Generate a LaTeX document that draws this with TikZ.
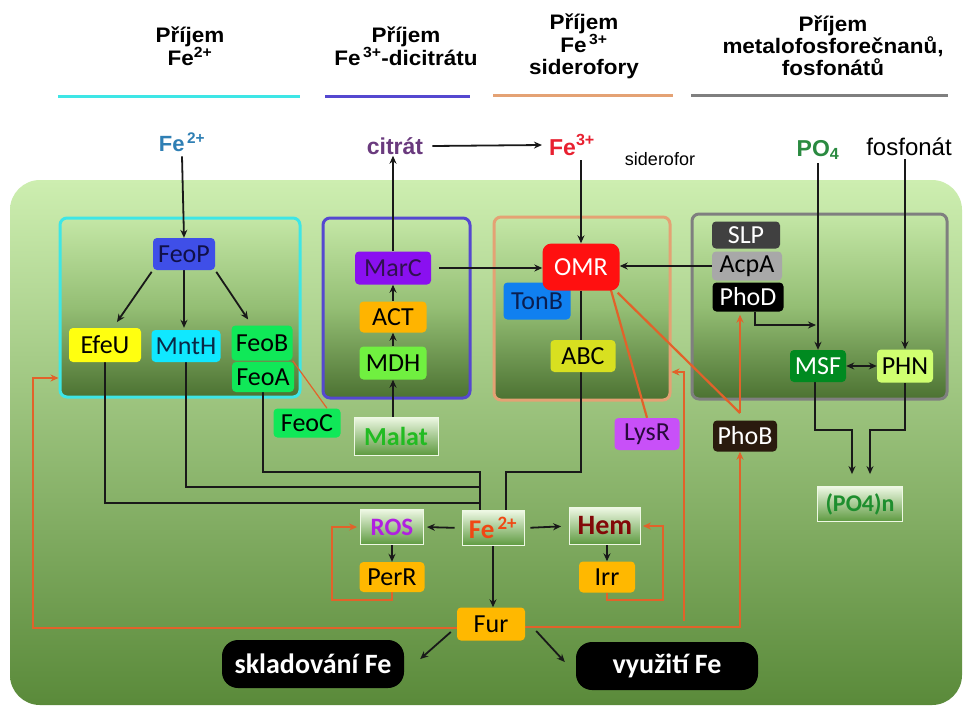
\documentclass[tikz,border=0pt]{standalone}
\usepackage{fontspec}
\setmainfont{Liberation Sans}
\newfontfamily\hdrfont{Liberation Sans}[FakeStretch=1.07]
\newfontfamily\boxfont{Carlito}
\usetikzlibrary{arrows.meta,calc}
\definecolor{bgtop}{HTML}{CDEEB0}
\definecolor{bgbot}{HTML}{5A8A3A}
\definecolor{rtop}{HTML}{C4E7A6}
\definecolor{rmid}{HTML}{94BE74}
\definecolor{rbot}{HTML}{4C7232}
\definecolor{gtop}{HTML}{EEF8E4}
\definecolor{gbot}{HTML}{5E9A40}
\definecolor{orl}{HTML}{E2622A}
\definecolor{cyanb}{HTML}{3EE6E6}
\definecolor{purpb}{HTML}{5548D0}
\definecolor{tanb}{HTML}{E4A274}
\definecolor{grayb}{HTML}{7F7F7F}
\definecolor{feblue}{HTML}{2F7FB4}
\definecolor{citc}{HTML}{6A3A7E}
\definecolor{fered}{HTML}{E82030}
\definecolor{po4c}{HTML}{2A8A40}
\pgfdeclarelayer{back}
\pgfdeclarelayer{lines}
\pgfsetlayers{back,lines,main}
\tikzset{
 conn/.style={draw=black!90, line width=1.8pt},
 arr/.style={conn, -{Stealth[length=8pt,width=7pt]}},
 arrr/.style={conn, {Stealth[length=8pt,width=7pt]}-{Stealth[length=8pt,width=7pt]}},
 oconn/.style={draw=orl, line width=2.2pt},
 oarr/.style={oconn, -{Stealth[length=8pt,width=7pt]}},
 gene/.style={rounded corners=4pt, font=\boxfont\fontsize{26}{27}\selectfont, inner sep=0pt},
 grad/.style={top color=gtop, bottom color=gbot, draw=gtop, line width=0.8pt, font=\boxfont\bfseries\fontsize{25}{26}\selectfont, inner sep=0pt},
 region/.style={rounded corners=7pt, line width=3pt, top color=rtop, bottom color=rbot, middle color=rmid, inner sep=0pt},
 hdr/.style={font=\hdrfont\bfseries\fontsize{21}{22}\selectfont, align=center, inner sep=0pt},
 lbl/.style={font=\bfseries\fontsize{23}{24}\selectfont, inner sep=1pt},
 big/.style={fill=black, text=white, rounded corners=16pt, font=\boxfont\bfseries\fontsize{28}{29}\selectfont, inner sep=0pt, minimum width=182pt, minimum height=48pt},
}
\begin{document}
\begin{tikzpicture}[x=1pt,y=-1pt]
\useasboundingbox (0,0) rectangle (966,710);

% headers
\node[hdr] (h1) at (190,46) {Příjem\\Fe\textsuperscript{2+}};
\node[hdr] (h2) at (406,46) {Příjem\\Fe\textsuperscript{\,3+}-dicitrátu};
\node[hdr] (h3) at (584,46) {Příjem\\Fe\textsuperscript{\,3+}\\siderofory};
\node[hdr] (h4) at (833,46) {Příjem\\metalofosforečnanů,\\fosfonátů};
\draw[cyanb, line width=3pt] (58,96) -- (300,96);
\draw[purpb, line width=3pt] (325,96) -- (470,96);
\draw[tanb, line width=3pt] (493,95) -- (673,95);
\draw[grayb, line width=3pt] (691,95) -- (948,95);

% outside labels
\node[lbl, text=feblue, font=\bfseries\fontsize{22}{23}\selectfont] (fein) at (182,142) {Fe\textsuperscript{\,2+}};
\node[lbl, text=citc] (citrat) at (395,146) {citrát};
\node[lbl, text=fered] (fe3) at (572,145) {Fe\textsuperscript{3+}};
\node[font=\fontsize{18}{19}\selectfont, inner sep=1pt] (sidf) at (660,159) {siderofor};
\node[lbl, text=po4c] (po4) at (818,150) {PO\textsubscript{4}};
\node[font=\fontsize{24}{25}\selectfont, inner sep=1pt] (fosf) at (909,147) {fosfonát};

% cell and regions
\begin{pgfonlayer}{back}
\fill[white] (0,0) rectangle (966,710);
\node[rounded corners=30pt, top color=bgtop, bottom color=bgbot, minimum width=952pt, minimum height=525pt, inner sep=0pt] (cell) at (486,442.5) {};
\node[region, draw=cyanb, minimum width=240pt, minimum height=179pt] (bFe) at (180,307.5) {};
\node[region, draw=purpb, minimum width=147pt, minimum height=180pt] (bCit) at (396.5,308) {};
\node[region, draw=tanb, minimum width=176pt, minimum height=183pt] (bSid) at (582,308.5) {};
\node[region, draw=grayb, minimum width=255pt, minimum height=185pt] (bPho) at (819.5,306.5) {};
\end{pgfonlayer}

% Fe2+ uptake
\node[gene, fill={rgb,255:red,63;green,79;blue,232}, text={rgb,255:red,16;green,16;blue,72}, minimum width=62pt, minimum height=32pt] (feop) at (184,254) {FeoP};
\node[gene, fill={rgb,255:red,255;green,255;blue,16}, minimum width=72pt, minimum height=34pt] (efeu) at (105,345) {EfeU};
\node[gene, fill={rgb,255:red,16;green,232;blue,255}, text={rgb,255:red,10;green,40;blue,70}, minimum width=69pt, minimum height=32pt] (mnth) at (186,346) {MntH};
\node[gene, fill={rgb,255:red,16;green,232;blue,88}, minimum width=61pt, minimum height=35pt] (feob) at (262,343) {FeoB};
\node[gene, fill={rgb,255:red,16;green,232;blue,88}, minimum width=62pt, minimum height=30pt] (feoa) at (263,377) {FeoA};
\node[gene, fill={rgb,255:red,16;green,232;blue,88}, minimum width=67pt, minimum height=29pt] (feoc) at (307,423) {FeoC};

% citrate
\node[grad, text={rgb,255:red,34;green,187;blue,34}, font=\boxfont\bfseries\fontsize{26}{27}\selectfont, minimum width=84pt, minimum height=38pt, rounded corners=0pt] (malat) at (396,436) {Malat};
\node[gene, fill={rgb,255:red,112;green,240;blue,64}, minimum width=67pt, minimum height=33pt] (mdh) at (393,363) {MDH};
\node[gene, fill={rgb,255:red,255;green,180;blue,0}, minimum width=67pt, minimum height=31pt] (act) at (393,317) {ACT};
\node[gene, fill={rgb,255:red,138;green,16;blue,240}, text={rgb,255:red,48;green,16;blue,80}, minimum width=76pt, minimum height=33pt] (marc) at (393,268) {MarC};

% siderophores
\node[gene, fill={rgb,255:red,16;green,128;blue,240}, text={rgb,255:red,10;green,30;blue,80}, minimum width=67pt, minimum height=37pt] (tonb) at (537,301) {TonB};
\node[gene, fill={rgb,255:red,255;green,16;blue,16}, text=white, rounded corners=9pt, minimum width=77pt, minimum height=47pt] (omr) at (581,267) {OMR};
\node[gene, fill={rgb,255:red,216;green,224;blue,32}, minimum width=65pt, minimum height=32pt] (abc) at (583,356) {ABC};

% phosphate
\node[gene, fill={rgb,255:red,64;green,64;blue,64}, text=white, minimum width=68pt, minimum height=27pt] (slp) at (746,235) {SLP};
\node[gene, fill={rgb,255:red,168;green,168;blue,168}, minimum width=70pt, minimum height=29pt] (acpa) at (747,266) {AcpA};
\node[gene, fill=black, text=white, minimum width=71pt, minimum height=29pt] (phod) at (748,297) {PhoD};
\node[gene, fill={rgb,255:red,0;green,138;blue,32}, text=white, minimum width=56pt, minimum height=32pt] (msf) at (818,366) {MSF};
\node[gene, fill={rgb,255:red,208;green,255;blue,112}, minimum width=56pt, minimum height=33pt] (phn) at (905,366) {PHN};
\node[grad, text={rgb,255:red,30;green,142;blue,46}, font=\boxfont\bfseries\fontsize{24}{25}\selectfont, minimum width=85pt, minimum height=35pt, rounded corners=0pt] (po4n) at (860,504) {(PO4)n};

% regulators
\node[gene, fill={rgb,255:red,200;green,80;blue,248}, text={rgb,255:red,40;green,10;blue,60}, minimum width=65pt, minimum height=32pt] (lysr) at (647,434) {LysR};
\node[gene, fill={rgb,255:red,42;green,26;blue,14}, text=white, minimum width=64pt, minimum height=31pt] (phob) at (745,436) {PhoB};

% central
\node[grad, text={rgb,255:red,176;green,32;blue,224}, minimum width=63pt, minimum height=35pt, rounded corners=0pt] (ros) at (392,527) {ROS};
\node[grad, text={rgb,255:red,240;green,72;blue,20}, font=\boxfont\bfseries\fontsize{27}{28}\selectfont, minimum width=62pt, minimum height=35pt, rounded corners=0pt] (fec) at (493,528) {Fe\textsuperscript{\,2+}};
\node[grad, text={rgb,255:red,130;green,8;blue,8}, font=\boxfont\bfseries\fontsize{28}{29}\selectfont, minimum width=71pt, minimum height=37pt, rounded corners=0pt] (hem) at (605,526) {Hem};
\node[gene, fill={rgb,255:red,255;green,184;blue,0}, minimum width=65pt, minimum height=30pt] (perr) at (392,577) {PerR};
\node[gene, fill={rgb,255:red,255;green,184;blue,0}, minimum width=56pt, minimum height=31pt] (irr) at (607,577) {Irr};
\node[gene, fill={rgb,255:red,255;green,184;blue,0}, minimum width=68pt, minimum height=33pt] (fur) at (491,624) {Fur};
\node[big] (skl) at (313,664) {skladování Fe};
\node[big] (vyu) at (667,666) {využití Fe};

% junction coordinates
\coordinate (jA) at (480,503);
\coordinate (jB) at (480,487);
\coordinate (jC) at (480,472);
\coordinate (jD) at (506,472);
\coordinate (pA) at (332,600);
\coordinate (iA) at (663,600);
\coordinate (fA) at (33,378);
\coordinate (fC) at (684,621);
\coordinate (fD) at (684,372);
\coordinate (pb) at (740,413);
\coordinate (pd) at (816,325);
\coordinate (mA) at (852,430);
\coordinate (mB) at (870,430);

\begin{pgfonlayer}{lines}
% top inputs
\draw[arr] (fein.south) ++(0,4) -- (feop.north);
\draw[arr] (marc.north) -- (marc.north |- citrat.south);
\draw[arr] (citrat.east) ++(8,0) -- ($(fe3.west)+(-6,0)$);
\draw[arr] (omr.north |- fe3.south) ++(0,4) -- (omr.north);
\draw[arr] (msf.north |- po4.south) ++(0,2) -- (msf.north);
\draw[arr] (phn.north |- fosf.south) ++(0,2) -- (phn.north);
% Fe2+ box
\draw[arr, shorten <=2pt, shorten >=7pt] (feop.south west) -- ([xshift=8pt]efeu.north);
\draw[arr, shorten >=2pt] (feop.south) -- (mnth.north -| feop.south);
\draw[arr, shorten <=2pt, shorten >=7pt] (feop.south east) -- ([xshift=-10pt]feob.north);
\draw[orl, line width=1.2pt] (feob.south east) -- ([xshift=20pt]feoc.north);
% citrate
\draw[arr] (malat.north -| mdh.south) -- (mdh.south);
\draw[arr] (mdh.north) -- (act.south);
\draw[arr] (act.north) -- (marc.south);
\draw[arr, shorten <=8pt] (marc.east) -- (omr.west |- marc.east);
% phosphate
\draw[arr] (acpa.west) -- (omr.east |- acpa.west);
\draw[arr] ([xshift=7pt]phod.south) |- (pd);
\draw[arrr] (msf.east) -- (phn.west);
\draw[arr, shorten >=12pt] ([xshift=-3pt]msf.south) |- (mA) -- (mA |- po4n.north);
\draw[arr, shorten >=12pt] (phn.south) |- (mB) -- (mB |- po4n.north);
% to Fe2+ pool
\draw[conn] (efeu.south) |- (jA);
\draw[conn] (mnth.south) |- (jB);
\draw[conn] (feoa.south) |- (jC) -- (jC |- fec.north);
\draw[conn] (omr.south) |- (jD) -- (jD |- fec.north);
% central
\draw[arr, shorten <=7pt, shorten >=3pt] (fec.west) -- (ros.east);
\draw[arr, shorten <=6pt, shorten >=8pt] (fec.east) -- (hem.west);
\draw[arr] (ros.south) -- (perr.north);
\draw[arr] (hem.south -| irr.north) -- (irr.north);
\draw[arr] (fec.south) -- (fur.north -| fec.south);
\draw[oarr, shorten >=3pt] (perr.south) |- (pA) |- (ros.west);
\draw[oarr, shorten >=2pt] (irr.south) |- (iA) |- (hem.east);
\draw[arr] ($(fur.west)+(-6,8)$) -- ($(skl.east)+(16,-5)$);
\draw[arr] ($(fur.east)+(11,7)$) -- ($(vyu.west)+(-11,-4)$);
% Fur repression
\draw[oarr] ([yshift=-4pt]fur.west) -| (fA) -- (bFe.west |- fA);
\draw[oarr] ([yshift=-3pt]fur.east) -| ([xshift=-5pt]phob.south);
\draw[oarr] (fC) -- (fD) -- (bSid.east |- fD);
% PhoB / LysR
\draw[oconn] ([xshift=-2pt,yshift=-2pt]omr.south east) -- (pb);
\draw[oarr, shorten >=3pt] (pb) -- (pb |- phod.south);
\draw[oconn] ([xshift=29pt,yshift=4pt]omr.south) -- (lysr.north);
\end{pgfonlayer}
\end{tikzpicture}
\end{document}
